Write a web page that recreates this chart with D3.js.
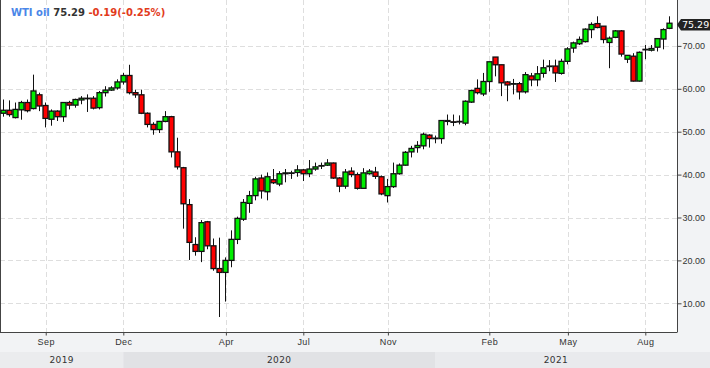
<!DOCTYPE html>
<meta charset="utf-8">
<script src="https://d3js.org/d3.v7.min.js"></script>
<style>
    body { margin: 0; background: #f2f3f5; }
    svg { display: block; font-family: "DejaVu Sans", sans-serif; }
    .grid line { stroke: #dedede; stroke-dasharray: 5 3; }
    .axisLabel { font-size: 9px; fill: #333; }
</style>
<body>
<div id="chart"></div>
<script>
    // weekly candles, oldest first
    var opens = [54.3, 55.0, 53.3, 55.1, 56.8, 55.4, 58.6, 56.1, 52.9, 54.8,
        53.5, 56.8, 56.2, 57.4, 57.7, 57.8, 55.6, 59.1, 59.7, 60.2,
        61.6, 63.1, 59.1, 58.6, 54.3, 51.7, 50.5, 52.4, 53.5, 45.3,
        41.6, 33.0, 23.7, 22.1, 29.0, 23.4, 18.1, 17.2, 20.0, 24.9,
        29.6, 33.3, 35.1, 39.2, 36.0, 38.8, 37.8, 40.2, 40.3, 40.5,
        41.1, 40.2, 41.3, 42.0, 42.2, 42.7, 39.2, 37.3, 40.8, 40.0,
        36.8, 40.2, 40.6, 39.5, 35.1, 37.2, 40.2, 42.2, 45.3, 46.3,
        46.7, 49.2, 48.5, 48.4, 52.6, 52.3, 52.3, 52.0, 56.9, 60.1,
        58.8, 61.7, 67.4, 65.6, 61.6, 61.1, 61.2, 59.3, 63.0, 62.1,
        63.6, 65.3, 65.3, 63.6, 66.4, 69.5, 70.5, 71.0, 73.8, 75.2,
        74.6, 70.8, 72.0, 73.5, 66.9, 67.6, 61.8, 69.2, 69.0, 69.7,
        71.6, 74.1];
    var highs = [57.5, 57.3, 56.8, 57.2, 57.5, 63.3, 59.1, 56.8, 55.2, 55.0,
        56.9, 57.2, 57.7, 58.3, 58.7, 58.3, 59.5, 60.6, 60.6, 62.2,
        63.7, 65.6, 59.8, 59.8, 54.5, 52.2, 52.5, 54.8, 53.7, 48.6,
        41.8, 34.3, 25.4, 29.4, 29.2, 25.1, 25.3, 20.7, 27.0, 30.2,
        34.3, 36.2, 39.5, 40.0, 40.5, 41.3, 40.8, 41.3, 40.9, 42.2,
        41.3, 43.4, 42.8, 42.8, 43.6, 42.8, 39.4, 41.3, 41.7, 40.5,
        41.5, 41.3, 41.8, 39.8, 39.0, 42.8, 42.6, 45.5, 46.7, 47.8,
        49.8, 49.4, 49.1, 52.6, 54.0, 54.0, 53.8, 57.3, 59.8, 62.2,
        63.7, 66.3, 67.4, 65.6, 61.8, 62.3, 61.6, 63.9, 63.7, 65.3,
        66.8, 66.7, 66.8, 67.0, 69.7, 71.0, 72.2, 74.1, 75.5, 76.9,
        74.6, 72.2, 73.7, 73.7, 67.8, 68.3, 68.7, 70.2, 70.2, 71.8,
        74.1, 76.9];
    var lows = [53.5, 53.5, 53.1, 52.8, 54.5, 55.2, 54.8, 51.0, 51.4, 52.5,
        52.3, 55.2, 55.6, 56.4, 54.6, 55.2, 55.2, 58.2, 59.5, 59.8,
        61.0, 58.7, 57.9, 54.1, 51.0, 49.3, 49.7, 52.2, 44.0, 41.2,
        27.4, 20.1, 21.1, 19.6, 22.6, 17.6, 6.8, 10.4, 18.4, 23.8,
        29.2, 31.1, 34.0, 34.4, 34.0, 37.8, 37.3, 38.2, 39.0, 39.5,
        38.5, 39.4, 40.9, 41.3, 42.0, 39.0, 35.9, 36.7, 39.4, 36.5,
        36.7, 40.0, 39.0, 35.2, 33.5, 36.9, 40.0, 42.1, 44.0, 45.1,
        45.9, 46.3, 47.3, 47.2, 51.5, 51.3, 51.7, 51.5, 56.7, 58.7,
        58.3, 59.3, 62.9, 58.3, 57.1, 58.7, 57.5, 58.9, 60.6, 60.6,
        62.6, 64.1, 61.6, 63.3, 65.7, 68.4, 70.2, 70.8, 71.8, 74.1,
        70.6, 64.8, 71.8, 67.5, 66.0, 61.7, 61.7, 66.9, 68.7, 68.7,
        69.2, 73.9];
    var closes = [55.0, 54.0, 55.2, 56.8, 54.9, 59.5, 56.0, 53.1, 54.8, 53.5,
        56.8, 56.2, 57.5, 57.8, 57.8, 55.5, 59.1, 59.7, 60.2, 61.6,
        63.1, 59.1, 58.6, 54.3, 51.7, 50.5, 52.4, 53.5, 45.3, 41.8,
        33.2, 24.2, 22.1, 28.8, 23.4, 18.1, 17.2, 20.0, 24.9, 29.8,
        33.5, 35.1, 39.0, 36.2, 39.5, 38.1, 40.2, 40.4, 40.4, 41.1,
        40.2, 41.3, 41.8, 42.1, 42.7, 39.2, 37.3, 40.6, 40.0, 36.8,
        40.4, 40.8, 39.6, 35.5, 37.2, 40.2, 42.2, 45.2, 46.1, 46.8,
        49.4, 48.4, 48.4, 52.6, 52.4, 52.2, 52.4, 57.1, 59.6, 59.1,
        61.7, 66.3, 65.6, 61.4, 60.9, 61.2, 59.3, 63.3, 62.1, 63.5,
        64.9, 65.3, 63.7, 66.4, 69.3, 70.7, 71.5, 73.9, 75.0, 74.3,
        71.5, 71.8, 73.5, 68.1, 67.8, 61.8, 68.5, 69.1, 69.4, 71.7,
        73.8, 75.29];

    // month ticks sit at these candle positions
    var monthLabels = ["Sep", "Dec", "Apr", "Jul", "Nov", "Feb", "May", "Aug"];
    var monthAt = [7.17, 20.1, 37.2, 50.1, 64.2, 81.1, 94.2, 107.1];
    var yearLabels = ["2019", "2020", "2021"];
    var yearFrom = [-0.45, 20.1, 72.05];
    var yearColors = ["#ebecee", "#e1e2e5", "#e9eaed"];
    var priceTicks = [10, 20, 30, 40, 50, 60, 70];

    var title = "WTI oil", lastPrice = "75.29", change = "-0.19(-0.25%)";

    const width = 710, height = 368;
    const plotRight = 677, plotBottom = 332;

    var candles = opens.map(function (o, i) {
        return {i: i, o: o, h: highs[i], l: lows[i], c: closes[i]};
    });

    var x = d3.scaleLinear().domain([0, candles.length - 1]).range([2.7, 668.7]);
    var y = d3.scaleLinear().domain([3.31, 80.7]).range([plotBottom, 0]);

    var svg = d3.select("#chart").append("svg")
        .attr("width", width)
        .attr("height", height);

    // background pieces
    svg.append("rect").attr("width", width).attr("height", height).attr("fill", "#f2f3f5");
    svg.append("rect").attr("width", plotRight).attr("height", plotBottom).attr("fill", "#fff");

    // year band
    var yearEnd = x.invert(width);
    svg.append("g").selectAll("rect")
        .data(yearLabels)
        .join("rect")
        .attr("x", (d, i) => Math.max(0, x(yearFrom[i])))
        .attr("y", 352)
        .attr("width", (d, i) => x(i < yearFrom.length - 1 ? yearFrom[i + 1] : yearEnd) - Math.max(0, x(yearFrom[i])))
        .attr("height", 16)
        .attr("fill", (d, i) => yearColors[i]);

    svg.append("g").selectAll("text")
        .data(yearLabels)
        .join("text")
        .attr("class", "axisLabel")
        .attr("x", (d, i) => {
            var a = Math.max(0, x(yearFrom[i]));
            var b = i < yearFrom.length - 1 ? x(yearFrom[i + 1]) : plotRight;
            return (a + b) / 2;
        })
        .attr("y", 363)
        .attr("text-anchor", "middle")
        .style("letter-spacing", "0.4px")
        .text(d => d);

    // grid
    var grid = svg.append("g").attr("class", "grid");
    grid.selectAll("line.h")
        .data(priceTicks)
        .join("line")
        .attr("class", "h")
        .attr("x1", 0).attr("x2", plotRight)
        .attr("y1", d => Math.round(y(d)) + 0.5)
        .attr("y2", d => Math.round(y(d)) + 0.5);
    grid.selectAll("line.v")
        .data(monthAt)
        .join("line")
        .attr("class", "v")
        .attr("y1", 0).attr("y2", plotBottom)
        .attr("x1", d => Math.round(x(d)) + 0.5)
        .attr("x2", d => Math.round(x(d)) + 0.5);

    // right price axis
    var yAxis = d3.axisRight(y)
        .tickValues(priceTicks)
        .tickSize(4)
        .tickPadding(1)
        .tickFormat(d3.format(".2f"));
    var ya = svg.append("g")
        .attr("transform", "translate(" + (plotRight + 0.5) + ",0)")
        .call(yAxis);
    ya.select(".domain").attr("d", "M0,0V" + plotBottom).attr("stroke", "#444");
    ya.selectAll(".tick line").attr("stroke", "#444");
    ya.selectAll(".tick text").attr("class", "axisLabel").attr("font-family", null).attr("font-size", null);

    // bottom month axis
    var xAxis = d3.axisBottom(x)
        .tickValues(monthAt)
        .tickSize(3)
        .tickPadding(3)
        .tickFormat((d, i) => monthLabels[i]);
    var xa = svg.append("g")
        .attr("transform", "translate(0," + (plotBottom + 0.5) + ")")
        .call(xAxis);
    xa.select(".domain").attr("d", "M0,0H" + (plotRight + 0.5)).attr("stroke", "#444");
    xa.selectAll(".tick line").attr("stroke", "#444");
    xa.selectAll(".tick text").attr("class", "axisLabel").attr("font-family", null)
        .attr("font-size", null).style("letter-spacing", "0.4px");

    // left frame line
    svg.append("line")
        .attr("x1", 0.5).attr("x2", 0.5)
        .attr("y1", 0).attr("y2", plotBottom)
        .attr("stroke", "#444");

    // candles
    var bodyW = 5;
    var cg = svg.append("g");
    cg.selectAll("line")
        .data(candles)
        .join("line")
        .attr("x1", d => Math.round(x(d.i)) + 0.5)
        .attr("x2", d => Math.round(x(d.i)) + 0.5)
        .attr("y1", d => y(d.h))
        .attr("y2", d => y(d.l))
        .attr("stroke", "#111")
        .attr("stroke-width", 1);
    cg.selectAll("rect")
        .data(candles)
        .join("rect")
        .attr("x", d => Math.round(x(d.i)) + 0.5 - bodyW / 2)
        .attr("width", bodyW)
        .attr("y", d => y(Math.max(d.o, d.c)))
        .attr("height", d => Math.max(0.5, Math.abs(y(d.o) - y(d.c))))
        .attr("fill", d => d.c >= d.o ? "#00ee00" : "#ff0000")
        .attr("stroke", "#111")
        .attr("stroke-width", 1.3);

    // last price marker
    var lastY = y(closes[closes.length - 1]) + 1.5;
    svg.append("path")
        .attr("d", "M" + plotRight + "," + lastY + "l4,-5.7H" + width + "v11.4H" + (plotRight + 4) + "z")
        .attr("fill", "#222");
    svg.append("text")
        .attr("x", 682)
        .attr("y", lastY + 3.3)
        .attr("fill", "#fff")
        .attr("font-size", "9.5px")
        .text(lastPrice);

    // title
    var t = svg.append("text")
        .attr("x", 11)
        .attr("y", 16)
        .attr("font-size", "10px")
        .attr("font-weight", "bold");
    t.append("tspan").attr("fill", "#4a86e8").text(title + " ");
    t.append("tspan").attr("fill", "#333").text(lastPrice + " ");
    t.append("tspan").attr("fill", "#e23b1b").text(change);
</script>
</body>
